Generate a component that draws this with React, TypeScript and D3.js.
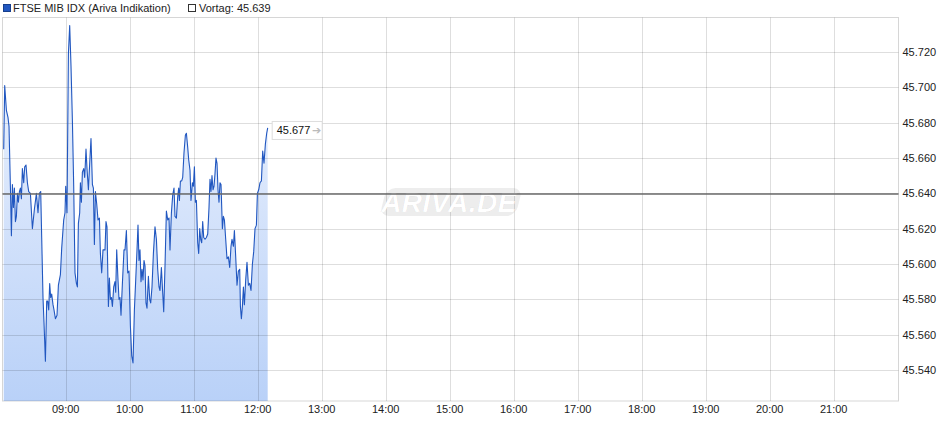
import React from "react";
import * as d3 from "d3";

const times: string[] = [
  "08:01:53","08:02:49","08:04:24","08:05:54","08:06:51","08:08:09","08:09:06","08:10:02","08:10:58","08:11:54",
  "08:12:51","08:13:47","08:14:43","08:15:39","08:16:36","08:17:32","08:18:28","08:19:24","08:20:38","08:21:34",
  "08:22:47","08:24:06","08:25:19","08:26:54","08:28:47","08:30:39","08:32:32","08:34:02","08:35:21","08:36:34",
  "08:37:30","08:38:43","08:39:39","08:40:58","08:42:11","08:43:07","08:44:04","08:45:00","08:45:56","08:46:52",
  "08:48:06","08:49:02","08:50:21","08:51:51","08:53:09","08:55:02","08:56:15","08:58:08","08:59:21","09:00:00",
  "09:01:13","09:02:32","09:03:45","09:04:58","09:06:17","09:07:30","09:08:43","09:10:02","09:10:58","09:11:54",
  "09:13:08","09:13:47","09:14:43","09:15:39","09:16:53","09:17:49","09:19:02","09:19:58","09:21:17","09:22:30",
  "09:23:43","09:25:02","09:25:58","09:26:54","09:27:51","09:29:04","09:30:17","09:31:36","09:32:32","09:33:45",
  "09:34:58","09:36:51","09:37:47","09:38:43","09:40:02","09:40:58","09:41:54","09:42:51","09:43:47","09:45:00",
  "09:46:13","09:46:52","09:47:49","09:49:02","09:49:58","09:50:54","09:51:51","09:53:09","09:54:39","09:55:36",
  "09:56:54","09:58:08","09:59:21","10:00:39","10:01:53","10:03:06","10:04:24","10:05:38","10:06:51","10:07:47",
  "10:08:43","10:09:39","10:10:36","10:11:32","10:12:28","10:13:24","10:14:21","10:15:17","10:16:13","10:17:32",
  "10:18:45","10:19:41","10:20:54","10:22:13","10:23:43","10:25:02","10:26:15","10:27:28","10:28:24","10:29:43",
  "10:30:39","10:31:53","10:33:06","10:34:24","10:35:38","10:36:51","10:37:47","10:39:06","10:40:19","10:41:32",
  "10:42:28","10:43:47","10:45:00","10:45:56","10:46:36","10:47:32","10:48:45","10:49:41","10:50:54","10:52:13",
  "10:53:09","10:54:23","10:55:19","10:56:32","10:57:28","10:58:47","10:59:43","11:00:39","11:01:36","11:02:32",
  "11:03:45","11:04:41","11:05:38","11:06:34","11:07:30","11:08:26","11:09:23","11:10:36","11:11:54","11:13:08",
  "11:14:21","11:15:17","11:16:13","11:17:09","11:18:06","11:19:02","11:19:58","11:20:54","11:21:51","11:22:47",
  "11:23:43","11:24:39","11:25:36","11:26:54","11:27:51","11:28:47","11:30:00","11:31:13","11:32:32","11:33:45",
  "11:34:58","11:35:54","11:37:13","11:38:09","11:39:23","11:40:36","11:41:54","11:43:08","11:43:47","11:44:43",
  "11:45:39","11:46:36","11:47:32","11:48:45","11:49:58","11:51:17","11:52:30","11:53:43","11:55:02","11:56:15",
  "11:57:28","11:58:47","11:59:43","12:00:56","12:02:09","12:03:28","12:04:41","12:05:54","12:07:13","12:08:26",
  "12:09:22",
];

const values: number[] = [
  45.665, 45.701, 45.687, 45.683, 45.678, 45.644, 45.616, 45.645, 45.632, 45.643,
  45.624, 45.627, 45.640, 45.635, 45.641, 45.643, 45.637, 45.654, 45.646, 45.655,
  45.656, 45.646, 45.641, 45.640, 45.620, 45.631, 45.640, 45.629, 45.640, 45.641,
  45.615, 45.581, 45.567, 45.545, 45.579, 45.579, 45.574, 45.589, 45.581, 45.583,
  45.577, 45.574, 45.569, 45.571, 45.588, 45.594, 45.609, 45.625, 45.629, 45.644,
  45.629, 45.719, 45.735, 45.712, 45.681, 45.644, 45.595, 45.589, 45.587, 45.623,
  45.629, 45.646, 45.635, 45.652, 45.654, 45.649, 45.665, 45.654, 45.642, 45.657,
  45.671, 45.645, 45.643, 45.611, 45.641, 45.634, 45.625, 45.626, 45.606, 45.595,
  45.608, 45.608, 45.624, 45.621, 45.576, 45.592, 45.580, 45.581, 45.576, 45.587,
  45.590, 45.584, 45.608, 45.591, 45.580, 45.581, 45.571, 45.589, 45.608, 45.608,
  45.619, 45.595, 45.596, 45.565, 45.548, 45.544, 45.574, 45.591, 45.608, 45.622,
  45.602, 45.608, 45.590, 45.597, 45.591, 45.602, 45.599, 45.578, 45.575, 45.593,
  45.580, 45.578, 45.587, 45.606, 45.621, 45.614, 45.597, 45.587, 45.585, 45.598,
  45.587, 45.573, 45.599, 45.630, 45.625, 45.626, 45.608, 45.629, 45.639, 45.643,
  45.627, 45.626, 45.638, 45.643, 45.636, 45.647, 45.647, 45.649, 45.663, 45.673,
  45.674, 45.666, 45.659, 45.653, 45.636, 45.646, 45.644, 45.655, 45.635, 45.636,
  45.612, 45.606, 45.620, 45.614, 45.612, 45.624, 45.615, 45.614, 45.615, 45.617,
  45.632, 45.648, 45.641, 45.650, 45.642, 45.644, 45.651, 45.660, 45.657, 45.642,
  45.635, 45.646, 45.645, 45.620, 45.627, 45.625, 45.614, 45.603, 45.604, 45.598,
  45.610, 45.614, 45.610, 45.619, 45.604, 45.588, 45.596, 45.597, 45.576, 45.569,
  45.576, 45.587, 45.577, 45.591, 45.601, 45.588, 45.589, 45.585, 45.600, 45.607,
  45.620, 45.622, 45.640, 45.642, 45.646, 45.647, 45.664, 45.657, 45.668, 45.674,
  45.677,
];

const yTicks: number[] = [45.54, 45.56, 45.58, 45.6, 45.62, 45.64, 45.66, 45.68, 45.7, 45.72];
const xTickLabels: string[] = ["09:00","10:00","11:00","12:00","13:00","14:00","15:00","16:00","17:00","18:00","19:00","20:00","21:00"];
const previousClose = 45.639;
const lastValue = 45.677;
const seriesName = "FTSE MIB IDX (Ariva Indikation)";
const dayStart = "08:00";
const dayEnd = "22:00";

const W = 940;
const H = 435;
const left = 2.5;
const right = 898.5;
const top = 17.5;
const bottom = 401;
const FONT = "Arial, 'Liberation Sans', Helvetica, sans-serif";

export default function App() {
  const parseT = d3.timeParse("%H:%M:%S");
  const parseHM = d3.timeParse("%H:%M");
  const data = times.map((t, i) => ({ t: parseT(t) as Date, v: values[i] }));

  const x = d3.scaleTime().domain([parseHM(dayStart) as Date, parseHM(dayEnd) as Date]).range([1.7, 897.7]);
  const y = d3.scaleLinear().domain([45.54, 45.72]).range([370, 52]);

  const line = d3.line<{ t: Date; v: number }>().x((d) => x(d.t)).y((d) => y(d.v));
  const area = d3
    .area<{ t: Date; v: number }>()
    .x((d) => x(d.t))
    .y0(bottom)
    .y1((d) => y(d.v));

  const last = data[data.length - 1];
  const lx = x(last.t);
  const ly = y(lastValue);
  const pcY = Math.round(y(previousClose)) - 1;

  return (
    <svg width={W} height={H} style={{ display: "block", position: "absolute", left: 0, top: 0, background: "#fff" }}>
      <defs>
        <linearGradient id="fillGrad" gradientUnits="userSpaceOnUse" x1="0" y1={top} x2="0" y2={bottom}>
          <stop offset="0" stopColor="#f2f6fe" />
          <stop offset="1" stopColor="#b9d1f8" />
        </linearGradient>
      </defs>
      <rect x={0} y={0} width={W} height={H} fill="#fff" />

      {/* area fill */}
      <path d={area(data) || ""} fill="url(#fillGrad)" />

      {/* grid */}
      {yTicks.map((t) => (
        <line key={"gy" + t} x1={left} x2={right} y1={Math.round(y(t)) + 0.5} y2={Math.round(y(t)) + 0.5} stroke="#000" strokeOpacity={0.13} />
      ))}
      {xTickLabels.map((lab) => {
        const xx = Math.round(x(parseHM(lab) as Date)) + 0.5;
        return <line key={"gx" + lab} x1={xx} x2={xx} y1={top} y2={bottom} stroke="#000" strokeOpacity={0.13} />;
      })}
      {/* frame */}
      <rect x={left} y={top} width={right - left} height={bottom - top} fill="none" stroke="#000" strokeOpacity={0.16} />

      {/* watermark */}
      <g transform="translate(451,202)">
        <rect x={-68} y={-14} width={136} height={28} rx={9} fill="#000" fillOpacity={0.07} transform="skewX(-14)" />
        <text x={-2} y={10} textAnchor="middle" fontFamily={FONT} fontStyle="italic" fontWeight="bold" fontSize={28} fill="#fff" stroke="#000" strokeOpacity={0.05} strokeWidth={1} letterSpacing={0.5}>
          ARIVA.DE
        </text>
      </g>

      {/* line */}
      <path d={line(data) || ""} fill="none" stroke="#2157c0" strokeWidth={1.1} strokeLinejoin="round" />

      {/* previous close */}
      <line x1={left} x2={right} y1={pcY} y2={pcY} stroke="#6a6a6a" strokeWidth={1.4} />

      {/* last value label */}
      <g transform={`translate(${lx + 4},${ly})`}>
        <rect x={0.5} y={-6.5} width={50} height={18} fill="#fff" stroke="#ddd" />
        <text x={5} y={6} fontFamily={FONT} fontSize={11} fill="#111">{lastValue.toFixed(3)}</text>
        <text x={40} y={6} fontFamily={FONT} fontSize={11} fill="#bbb">➔</text>
      </g>

      {/* y labels */}
      {yTicks.map((t) => (
        <text key={"yl" + t} x={902.5} y={y(t) + 4} fontFamily={FONT} fontSize={11} fill="#222">
          {t.toFixed(3)}
        </text>
      ))}
      {/* x labels */}
      {xTickLabels.map((lab) => (
        <text key={"xl" + lab} x={x(parseHM(lab) as Date)} y={413} textAnchor="middle" fontFamily={FONT} fontSize={11} fill="#222">
          {lab}
        </text>
      ))}

      {/* legend */}
      <rect x={3.5} y={4.5} width={7} height={7} fill="#2157c0" stroke="#173f8c" />
      <text x={13} y={12} fontFamily={FONT} fontSize={11} fill="#222">{seriesName}</text>
      <rect x={188.5} y={4.5} width={7} height={7} fill="#fff" stroke="#333" />
      <text x={199} y={12} fontFamily={FONT} fontSize={11} fill="#222">{"Vortag: " + previousClose.toFixed(3)}</text>
    </svg>
  );
}
